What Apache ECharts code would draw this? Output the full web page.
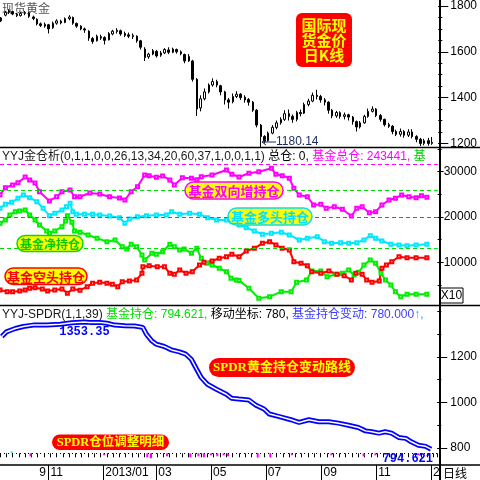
<!DOCTYPE html>
<html>
<head>
<meta charset="utf-8">
<script src="https://cdn.jsdelivr.net/npm/echarts@6/dist/echarts.min.js"></script>
<style>html,body{margin:0;padding:0;background:#fff}#main{width:480px;height:480px}</style>
</head>
<body>
<div id="main"></div>
<script>
// x values are calendar days counted from 2012-09-01
const monthTicks = [61, 122, 181, 242, 303, 365, 426, 487];
const monthLabels = ['11', '2013/01', '03', '05', '07', '09', '11', '2014/01'];

// spot gold: [day, open, close, low, high]
const goldDaily = [
  [8,1735,1748,1730,1752],[13,1760,1772,1755,1778],[17,1772,1778,1765,1786],[21,1776,1765,1760,1780],
  [26,1764,1758,1752,1770],[30,1758,1768,1754,1774],[35,1768,1772,1760,1778],[39,1770,1755,1748,1774],
  [44,1752,1745,1738,1758],[48,1742,1722,1715,1746],[52,1722,1715,1708,1728],[57,1712,1720,1705,1728],
  [61,1718,1700,1680,1722],[66,1705,1725,1700,1732],[70,1725,1735,1718,1742],[75,1734,1726,1720,1740],
  [79,1728,1745,1725,1750],[84,1745,1752,1738,1760],[88,1750,1725,1718,1754],[92,1724,1712,1705,1728],
  [97,1712,1700,1694,1716],[101,1700,1695,1683,1706],[106,1690,1660,1648,1694],[110,1658,1645,1635,1665],
  [115,1648,1668,1645,1675],[119,1666,1660,1652,1675],[123,1662,1650,1632,1668],[128,1652,1680,1650,1686],
  [132,1678,1690,1672,1696],[137,1688,1694,1680,1703],[141,1692,1678,1670,1697],[146,1680,1672,1664,1688],
  [150,1674,1668,1660,1684],[155,1666,1672,1656,1680],[159,1668,1648,1640,1672],[163,1648,1620,1610,1652],
  [168,1612,1575,1560,1620],[172,1578,1590,1570,1596],[177,1590,1605,1585,1612],[181,1602,1582,1575,1608],
  [186,1585,1595,1578,1604],[190,1595,1610,1590,1616],[194,1608,1598,1590,1620],[199,1598,1612,1594,1618],
  [203,1610,1600,1592,1614],[208,1600,1592,1585,1606],[212,1588,1560,1550,1592],[217,1560,1580,1556,1590],
  [221,1560,1480,1470,1565],[226,1480,1350,1320,1485],[230,1355,1395,1340,1410],[234,1395,1425,1388,1440],
  [239,1425,1455,1418,1462],[243,1455,1470,1448,1484],[248,1470,1455,1445,1478],[252,1452,1425,1410,1456],
  [257,1425,1390,1370,1430],[261,1390,1380,1352,1398],[266,1382,1405,1375,1418],[270,1405,1415,1398,1428],
  [274,1415,1400,1390,1420],[279,1402,1390,1378,1410],[283,1392,1380,1365,1398],[288,1380,1345,1338,1385],
  [292,1345,1280,1270,1350],[297,1280,1230,1180.14,1285],[301,1230,1210,1200,1236],[305,1212,1245,1208,1252],
  [310,1245,1270,1240,1280],[314,1270,1290,1262,1300],[319,1290,1305,1282,1314],[323,1305,1330,1298,1345],
  [328,1330,1318,1300,1348],[332,1318,1305,1290,1326],[337,1305,1335,1296,1342],[341,1335,1330,1318,1348],
  [345,1332,1370,1328,1378],[350,1370,1385,1362,1395],[354,1385,1410,1380,1422],[359,1410,1405,1392,1434],
  [363,1405,1390,1378,1412],[368,1390,1380,1366,1398],[372,1380,1345,1330,1384],[376,1345,1320,1310,1350],
  [381,1320,1335,1312,1342],[385,1334,1318,1308,1340],[390,1318,1325,1305,1335],[394,1325,1315,1300,1330],
  [399,1315,1295,1282,1320],[403,1295,1272,1252,1300],[407,1272,1290,1265,1298],[412,1290,1318,1286,1325],
  [416,1318,1340,1312,1352],[421,1340,1350,1335,1362],[425,1350,1322,1315,1354],[430,1322,1305,1295,1328],
  [434,1305,1282,1274,1308],[439,1282,1275,1268,1290],[443,1275,1252,1240,1280],[447,1252,1240,1232,1260],
  [452,1240,1252,1230,1265],[456,1252,1236,1225,1258],[461,1236,1250,1228,1262],[465,1250,1230,1222,1262],
  [470,1230,1218,1205,1236],[474,1218,1200,1188,1224],[478,1200,1212,1192,1220],[483,1212,1200,1190,1224],
  [487,1200,1205,1194,1228]
];

// fund positions (axis units, x10)
const fundTotal = [
  [7,24900],[13,26470],[21,27060],[27,27570],[35,28830],[40,28170],[46,27510],[51,25590],[62,23530],[70,24480],
  [76,25590],[85,25960],[90,24480],[96,24480],[107,25300],[118,25080],[129,24480],[140,24190],[146,23750],[153,25590],
  [160,26690],[168,29270],[173,29120],[181,28760],[188,29050],[196,28170],[201,27060],[210,28680],[220,28540],[226,28230],
  [231,28900],[243,29270],[259,30380],[265,29430],[273,28830],[284,29650],[295,30000],[309,30750],[314,29430],[321,29120],
  [329,28540],[334,26340],[340,24860],[349,24480],[356,22650],[364,22800],[370,21920],[379,22270],[388,21700],[398,20220],
  [404,21920],[410,22270],[418,20950],[425,21170],[432,22650],[440,23750],[447,24130],[454,24860],[462,24480],[470,24260],
  [476,24700],[482,24344]
];
const fundLong = [
  [7,21920],[13,22800],[20,23250],[27,24130],[33,24860],[40,24260],[48,23380],[55,21920],[62,20290],[68,20820],
  [76,21550],[81,22270],[85,23020],[88,21170],[92,20600],[101,20600],[110,20600],[118,20440],[129,20220],[140,19850],
  [146,18610],[151,19560],[160,20070],[170,20290],[181,20440],[192,20440],[198,21170],[207,20600],[218,20820],[229,20600],
  [238,19850],[248,19340],[259,19340],[265,18960],[273,18230],[281,17640],[290,16910],[299,16180],[309,16400],[320,16620],
  [329,16030],[340,14920],[349,15300],[360,15650],[368,14550],[376,14190],[386,14330],[395,14190],[404,14330],[412,14920],
  [419,15870],[425,15300],[432,14700],[442,13970],[451,13820],[460,13660],[470,13820],[482,13970]
];
const fundNet = [
  [7,18610],[13,19340],[18,20440],[24,21170],[29,21330],[35,21550],[40,20440],[46,19340],[51,18230],[59,16910],
  [62,16400],[68,16910],[76,17860],[80,19120],[82,20290],[87,18830],[90,16910],[96,16620],[105,16030],[115,15300],
  [126,14550],[135,14920],[143,13440],[148,12940],[153,13970],[159,13440],[165,11610],[168,10510],[176,11990],[181,11770],
  [188,12340],[196,13970],[201,13440],[207,12720],[212,12940],[220,11990],[226,13090],[231,10880],[237,9780],[243,9400],
  [251,8680],[259,7930],[264,6470],[270,6090],[273,6000],[284,4260],[295,2050],[307,2410],[320,3510],[331,3510],
  [337,5590],[348,6090],[354,8080],[364,8080],[371,6820],[381,7350],[388,7570],[395,8300],[401,7200],[406,7790],
  [412,9400],[419,10510],[425,9780],[431,7570],[436,6090],[442,4990],[447,3510],[453,2410],[460,2940],[470,2940],
  [482,2936]
];
const fundShort = [
  [7,3890],[15,3510],[21,3510],[29,3670],[35,3890],[40,4260],[46,4390],[54,4110],[60,3670],[68,3890],
  [76,4110],[82,3160],[88,4110],[96,3820],[104,4610],[110,5360],[118,5590],[126,5360],[132,5140],[138,4610],
  [143,5720],[151,5870],[159,6090],[165,7570],[166,9030],[173,9250],[182,9030],[190,9030],[196,7570],[201,7350],
  [207,8300],[214,7570],[221,7930],[229,9400],[234,10000],[243,10290],[251,10880],[259,11240],[265,11770],[273,11200],
  [281,12500],[290,13090],[299,14190],[307,14550],[314,13820],[321,13090],[329,12720],[334,10130],[342,9780],[349,9250],
  [354,7930],[364,7570],[373,8080],[382,7350],[390,7040],[398,6090],[403,7570],[410,7350],[415,6090],[421,5590],
  [429,5870],[432,8680],[437,9400],[443,10130],[451,11240],[460,11020],[470,11020],[482,11020]
];
const levels = [[31700, '#ff00ff'], [26000, '#00dd00'], [20000, '#ff00ff'], [13000, '#00dd00']];

// SPDR gold holdings (tonnes)
const spdr = [
  [9,1290],[14,1310],[24,1325],[33,1334],[44,1340],[59,1340],[74,1344],[87,1350],[101,1353.35],[107,1352],
  [118,1352],[126,1348],[135,1340],[146,1337],[157,1336],[166,1330],[170,1300],[176,1271],[181,1256],[190,1246],
  [198,1231],[207,1222],[214,1212],[220,1190],[226,1146],[231,1110],[238,1080],[248,1058],[259,1036],[265,1018],
  [273,1015],[284,1011],[292,988],[301,971],[307,949],[318,938],[331,924],[340,912],[351,924],[362,915],
  [373,915],[384,909],[395,900],[406,890],[414,875],[421,871],[429,865],[436,871],[443,865],[451,846],
  [459,842],[465,827],[473,812],[481,807],[487,794.621]
];
const spdrChange = [
  [20,2],[41,-3],[123,-2],[171,-4],[175,-5],[193,-3],[219,-4],[228,-3],[234,-4],[242,-2],
  [249,-3],[256,-2],[261,-3],[294,-4],[308,-4],[332,-2],[376,-2],[412,-3],[425,-2],[473,-2]
];

const goldMinor = [1200,1250,1300,1350,1400,1450,1500,1550,1600,1650,1700,1750,1800];
const goldMajor = [1200,1400,1600,1800];
const posMinor = [5000,10000,15000,20000,25000,30000,35000];
const posMajor = [10000,20000,30000];
const spdrMinor = [800,900,1000,1100,1200,1300,1400];
const spdrMajor = [800,1000,1200];

const SANS = '"Liberation Sans", "Noto Sans CJK SC", sans-serif';
const CJK = '"Noto Sans CJK SC", sans-serif';
const SERIF = '"Liberation Serif", "Noto Sans CJK SC", serif';
const MONO = '"Liberation Mono", monospace';

function yPair(grid, min, max, minor, major, margin, len) {
  return [
    {type: 'value', gridIndex: grid, position: 'right', min: min, max: max,
     axisLine: {show: false}, splitLine: {show: false}, axisLabel: {show: false},
     axisTick: {customValues: minor, length: 4, lineStyle: {color: '#000'}}},
    {type: 'value', gridIndex: grid, position: 'right', min: min, max: max,
     axisLine: {show: false}, splitLine: {show: false},
     axisTick: {customValues: major, length: len, lineStyle: {color: '#000'}},
     axisLabel: {customValues: major, margin: margin, color: '#000', fontSize: 12, fontFamily: SANS,
       formatter: v => String(v)}}
  ];
}

function tag(x, y, w, h, text, fill, stroke, color, size, family) {
  return {
    type: 'group', x: x, y: y,
    children: [
      {type: 'rect', z: 20, shape: {x: 0, y: 0, width: w, height: h, r: h / 2},
       style: {fill: fill, stroke: stroke || null, lineWidth: stroke ? 1.5 : 0}},
      {type: 'text', z: 21, x: w / 2, y: h / 2 + 0.5,
       style: {text: text, fill: color, font: 'bold ' + size + 'px ' + family, align: 'center', verticalAlign: 'middle'}}
    ]
  };
}

function cot(data, color) {
  return {
    type: 'line', xAxisIndex: 1, yAxisIndex: 2, data: data,
    symbol: 'emptyRect', symbolSize: 3, showAllSymbol: true,
    lineStyle: {color: color, width: 2}, itemStyle: {color: color, borderWidth: 1}
  };
}

const chart = echarts.init(document.getElementById('main'));
chart.setOption({
  animation: false,
  backgroundColor: '#fff',
  grid: [
    {left: 0, top: 0, width: 439, height: 148},
    {left: 0, top: 148, width: 439, height: 158},
    {left: 0, top: 306, width: 439, height: 159}
  ],
  xAxis: [
    {type: 'value', gridIndex: 0, min: 7, max: 494, show: false},
    {type: 'value', gridIndex: 1, min: 7, max: 494, show: false},
    {type: 'value', gridIndex: 2, position: 'bottom', min: 7, max: 494, interval: 7,
     axisLine: {show: false}, splitLine: {show: false}, axisLabel: {show: false},
     axisTick: {length: 4, lineStyle: {color: '#000'}}},
    {type: 'value', gridIndex: 2, position: 'bottom', min: 7, max: 494,
     axisLine: {show: false}, splitLine: {show: false},
     axisTick: {customValues: monthTicks, length: 15, lineStyle: {color: '#000'}},
     axisLabel: {customValues: monthTicks, formatter: v => monthLabels[monthTicks.indexOf(v)],
       align: 'left', margin: 2, padding: [0, 0, 0, 2], color: '#000', fontSize: 12, fontFamily: SANS}}
  ],
  yAxis: [].concat(
    yPair(0, 1180, 1808, goldMinor, goldMajor, 12, 10),
    yPair(1, 350, 35230, posMinor, posMajor, 6, 6),
    yPair(2, 725, 1424, spdrMinor, spdrMajor, 13, 10),
    [{type: 'value', gridIndex: 2, min: -11.7, max: 147.3, show: false}]
  ),
  series: [
    {
      type: 'candlestick', xAxisIndex: 0, yAxisIndex: 0, data: goldDaily, barWidth: 2,
      itemStyle: {color: '#fff', color0: '#000', borderColor: '#000', borderColor0: '#000', borderWidth: 1},
      markPoint: {
        symbolSize: 0, silent: true,
        data: [{coord: [297, 1180.14]}],
        label: {show: true, position: 'right', distance: 15, offset: [0, -6], formatter: '1180.14',
          color: '#1c2a5a', fontSize: 12, fontFamily: SANS}
      }
    },
    Object.assign(cot(fundTotal, '#ff00ff'), {
      markLine: {
        silent: true, symbol: 'none', label: {show: false},
        data: levels.map(l => ({yAxis: l[0], lineStyle: {color: l[1], type: [4, 3], width: 1}}))
      }
    }),
    cot(fundLong, '#00e8ff'),
    cot(fundNet, '#00ee00'),
    cot(fundShort, '#ff0000'),
    {
      type: 'line', xAxisIndex: 2, yAxisIndex: 4, data: spdr, symbol: 'none',
      lineStyle: {color: '#0000ff', width: 5},
      markPoint: {
        symbolSize: 0, silent: true,
        label: {show: true, position: 'bottom', distance: 4, color: '#0000ff',
          fontSize: 12, fontWeight: 'bold', fontFamily: MONO},
        data: [
          {coord: [101, 1353.35], label: {formatter: '1353.35'}},
          {coord: [487, 794.621], label: {formatter: '794.621', align: 'right', offset: [2, 0]}}
        ]
      }
    },
    {type: 'line', xAxisIndex: 2, yAxisIndex: 4, data: spdr, symbol: 'none', silent: true,
     lineStyle: {color: '#fff', width: 1.5}},
    {
      type: 'bar', xAxisIndex: 2, yAxisIndex: 6, data: spdrChange, barWidth: 2,
      itemStyle: {color: p => p.value[1] < 0 ? '#ff00ff' : '#00ffff'},
      markLine: {silent: true, symbol: 'none', label: {show: false}, data: [{yAxis: 0}],
        lineStyle: {color: '#000', type: [1, 3], width: 1}}
    }
  ],
  graphic: [
    {type: 'text', x: 2, y: 8, z: 1, style: {text: '现货黄金', fill: '#555', font: '12px ' + CJK, verticalAlign: 'middle'}},
    {type: 'rect', z: 20, shape: {x: 296, y: 13, width: 56, height: 54, r: 6}, style: {fill: '#ff0000'}},
    {type: 'text', z: 21, x: 324, y: 40, style: {text: '国际现\n货金价\n日K线', fill: '#ffff00',
      font: 'bold 15px ' + CJK, lineHeight: 15, align: 'center', verticalAlign: 'middle'}},
    // arrow pointing at the 1180.14 low
    {type: 'polyline', z: 20, shape: {points: [[276, 142], [262, 142]]}, style: {stroke: '#1c2a5a', lineWidth: 1}},
    {type: 'polyline', z: 20, shape: {points: [[266, 139], [262, 142], [266, 145]]}, style: {stroke: '#1c2a5a', fill: null, lineWidth: 1}},
    {type: 'text', z: 20, x: 2, y: 157, style: {
      text: '{a|YYJ金仓析(0,1,1,0,0,26,13,34,20,60,37,1,0,0,1,1)} {b|总仓: 0,} {c|基金总仓: 243441,} {d|基金净持仓: 2936,}',
      width: 436, overflow: 'truncate', ellipsis: '', verticalAlign: 'middle', font: '12px ' + SANS,
      rich: {
        a: {fill: '#1a1a1a', font: '12px ' + SANS}, b: {fill: '#000', font: '12px ' + SANS},
        c: {fill: '#ff00ff', font: '12px ' + SANS}, d: {fill: '#00cc00', font: '12px ' + SANS}
      }}},
    {type: 'text', z: 20, x: 2, y: 315, style: {
      text: '{a|YYJ-SPDR(1,1,39)} {b|基金持仓: 794.621,} {c|移动坐标: 780,} {d|基金持仓变动: 780.000}{e|↑,} {f|基金增减: 0.000}',
      width: 436, overflow: 'truncate', ellipsis: '', verticalAlign: 'middle', font: '12px ' + SANS,
      rich: {
        a: {fill: '#1a1a1a', font: '12px ' + SANS}, b: {fill: '#00dd00', font: '12px ' + SANS},
        c: {fill: '#000', font: '12px ' + SANS}, d: {fill: '#3c3cff', font: '12px ' + SANS},
        e: {fill: '#3399ff', font: '12px ' + SANS}, f: {fill: '#00cccc', font: '12px ' + SANS}
      }}},
    tag(185, 182, 98, 17, '基金双向增持仓', '#ffff00', '#ff00ff', '#ff00ff', 13, CJK),
    tag(228, 208, 84, 17, '基金多头持仓', '#ffff00', '#00e0f0', '#00e0ff', 13, CJK),
    tag(17, 235.5, 66, 16, '基金净持仓', '#ffff00', '#00dd00', '#00cc00', 12, CJK),
    tag(5, 268, 82, 16.5, '基金空头持仓', '#ffff00', '#ff0000', '#ff0000', 13, CJK),
    tag(209, 358, 146, 19, 'SPDR黄金持仓变动路线', '#ff0000', null, '#ffff00', 13, SERIF),
    tag(52, 434.5, 117, 15.5, 'SPDR仓位调整明细', '#ff0000', null, '#ffff00', 12.5, SERIF),
    {type: 'rect', z: 30, shape: {x: 440, y: 288, width: 23, height: 15}, style: {fill: '#fff', stroke: '#000', lineWidth: 1}},
    {type: 'text', z: 31, x: 451.5, y: 296, style: {text: 'X10', fill: '#000', font: '12px ' + SANS, align: 'center', verticalAlign: 'middle'}},
    {type: 'line', z: 40, shape: {x1: 0, y1: 147.5, x2: 480, y2: 147.5}, style: {stroke: '#000', lineWidth: 1.5}},
    {type: 'line', z: 40, shape: {x1: 0, y1: 305.5, x2: 480, y2: 305.5}, style: {stroke: '#000', lineWidth: 1.5}},
    {type: 'rect', z: 50, shape: {x: 441, y: 466, width: 39, height: 14}, style: {fill: '#fff'}},
    {type: 'line', z: 55, shape: {x1: 0, y1: 465, x2: 480, y2: 465}, style: {stroke: '#000', lineWidth: 1.5}},
    {type: 'line', z: 55, shape: {x1: 440, y1: 0, x2: 440, y2: 480}, style: {stroke: '#000', lineWidth: 2}},
    {type: 'text', z: 56, x: 443, y: 473, style: {text: '日线', fill: '#000', font: '12px ' + CJK, verticalAlign: 'middle'}},
    {type: 'text', z: 20, x: 46, y: 473, style: {text: '9', fill: '#000', font: '12px ' + SANS, align: 'right', verticalAlign: 'middle'}}
  ]
});
</script>
</body>
</html>
